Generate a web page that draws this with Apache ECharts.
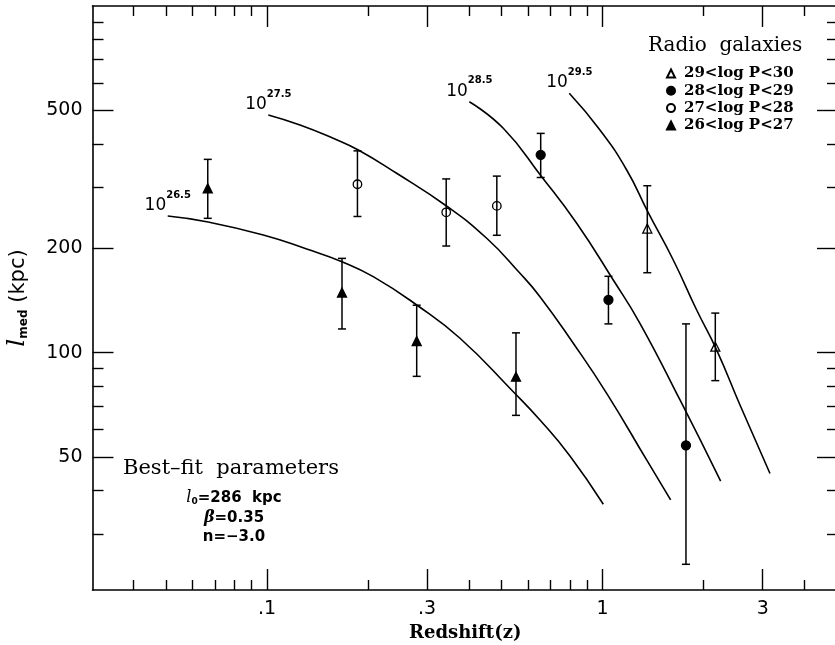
<!DOCTYPE html>
<html>
<head>
<meta charset="utf-8">
<script src="https://cdn.jsdelivr.net/npm/echarts/dist/echarts.min.js"></script>
<style>
  html, body { margin: 0; padding: 0; background: #fff; }
  #chart { width: 835px; height: 645px; }
</style>
</head>
<body>
<div id="chart"></div>
<script>
// measured points: [z, l_med, lower, upper]  (kpc)
const grp29 = [[1.359, 228, 170, 303], [2.167, 104, 83, 130]]
const grp28 = [[0.654, 372, 320, 429], [1.041, 142, 121, 166], [1.772, 54, 24.5, 121]]
const grp27 = [[0.186, 306, 247, 382], [0.342, 254, 203, 317], [0.484, 265, 218, 323]]
const grp26 = [[0.0666, 298, 244, 361], [0.1673, 149, 117, 187], [0.2793, 108, 85.4, 137], [0.552, 85.2, 65.9, 114]]

// model curves: [z, l_med]
const curve265 = [[0.0506, 247.9], [0.0661, 238.6], [0.0975, 218.5], [0.1313, 199], [0.1673, 182.9], [0.2073, 165.6],
  [0.2793, 137.2], [0.3759, 110], [0.5418, 77.1], [0.6507, 63.9], [0.7994, 50.3], [1.005, 36.5]]
const curve275 = [[0.1009, 484.8], [0.1254, 453.6], [0.1575, 415.3], [0.1871, 384.2], [0.2434, 329.1], [0.3426, 264.8],
  [0.4515, 213.7], [0.5674, 169.4], [0.6507, 145], [0.8178, 106.4], [1.0285, 76.3], [1.353, 49], [1.595, 37.6]]
const curve285 = [[0.4008, 529.4], [0.5059, 443.7], [0.6583, 321.7], [0.8372, 236.1], [1.076, 162], [1.292, 121.5],
  [1.701, 73], [2.248, 42.6]]
const curve295 = [[0.7957, 560], [0.982, 438.7], [1.18, 336.4], [1.363, 255], [1.624, 185], [1.907, 132.7],
  [2.188, 101.7], [2.567, 70.6], [3.154, 44.8]]
const curveNames = ['26.5', '27.5', '28.5', '29.5']

// ticks
const xMajorTicks = [0.1, 0.3, 1, 3]
const xTickLabels = ['.1', '.3', '1', '3']
const xMinorTicks = [0.04, 0.05, 0.06, 0.07, 0.08, 0.09, 0.2, 0.4, 0.5, 0.6, 0.7, 0.8, 0.9, 2, 4]
const yMajorTicks = [50, 100, 200, 500]
const yTickLabels = ['50', '100', '200', '500']
const yMinorTicks = [30, 40, 60, 70, 80, 90, 300, 400, 600, 700, 800, 900]

const groupNames = ['29<log P<30', '28<log P<29', '27<log P<28', '26<log P<27']

const lg = Math.log10
const X_MIN = -1.52, X_MAX = 0.7015
const Y_MIN = 1.315, Y_MAX = 3
const black = '#000'

function pickLabel(v, ticks, labels) {
  const i = ticks.findIndex(t => Math.abs(lg(t) - v) < 1e-6)
  return i >= 0 ? labels[i] : ''
}

function makeAxis(dim, position, ticks, len, showLine, labels) {
  const ax = {
    type: 'value',
    position: position,
    min: dim === 'x' ? X_MIN : Y_MIN,
    max: dim === 'x' ? X_MAX : Y_MAX,
    splitLine: { show: false },
    axisLine: { show: showLine, onZero: false, lineStyle: { color: black, width: 1.6 } },
    axisTick: {
      show: true,
      inside: true,
      length: len,
      customValues: ticks.map(t => lg(t)),
      lineStyle: { color: black, width: 1.4 },
    },
    axisLabel: { show: false },
  }
  if (labels) {
    ax.axisLabel = {
      show: true,
      customValues: ticks.map(t => lg(t)),
      color: black,
      fontFamily: 'DejaVu Sans',
      fontSize: 19,
      margin: 10,
      formatter: (v) => pickLabel(v, ticks, labels),
    }
  }
  return ax
}

const xAxes = [
  makeAxis('x', 'bottom', xMajorTicks, 21, true, xTickLabels),
  makeAxis('x', 'bottom', xMinorTicks, 10, false),
  makeAxis('x', 'top', xMajorTicks, 21, true),
  makeAxis('x', 'top', xMinorTicks, 10, false),
]
xAxes[0].name = 'Redshift(z)'
xAxes[0].nameLocation = 'middle'
xAxes[0].nameGap = 30
xAxes[0].nameTextStyle = { color: black, fontFamily: 'DejaVu Serif', fontWeight: 'bold', fontSize: 18 }

const yAxes = [
  makeAxis('y', 'left', yMajorTicks, 21, true, yTickLabels),
  makeAxis('y', 'left', yMinorTicks, 11, false),
  makeAxis('y', 'right', yMajorTicks, 21, true),
  makeAxis('y', 'right', yMinorTicks, 11, false),
]
yAxes[0].name = '{l|l}{s|med}{k| (kpc)}'
yAxes[0].nameLocation = 'middle'
yAxes[0].nameGap = 63
yAxes[0].nameTextStyle = {
  color: black,
  fontFamily: 'DejaVu Sans',
  fontSize: 21,
  rich: {
    l: { fontFamily: 'DejaVu Serif', fontStyle: 'italic', fontSize: 25, color: black, verticalAlign: 'bottom', lineHeight: 28 },
    s: { fontFamily: 'DejaVu Sans', fontWeight: 'bold', fontSize: 12, color: black, verticalAlign: 'bottom', lineHeight: 22 },
    k: { fontFamily: 'DejaVu Sans', fontSize: 21, color: black, verticalAlign: 'bottom', lineHeight: 28 },
  },
}

function toLog(arr) {
  return arr.map(p => [lg(p[0]), lg(p[1])])
}

function curveSeries(pts, tag) {
  const data = toLog(pts).map((p, i) => {
    if (i !== 0) return p
    return {
      value: p,
      label: {
        show: true,
        position: 'top',
        distance: 2,
        formatter: '{b|10}{s|' + tag + '}',
        rich: {
          b: { fontFamily: 'DejaVu Sans', fontSize: 17, color: black, verticalAlign: 'bottom', lineHeight: 24 },
          s: { fontFamily: 'DejaVu Sans', fontWeight: 'bold', fontSize: 10, color: black, verticalAlign: 'top', lineHeight: 24 },
        },
      },
    }
  })
  return {
    type: 'line',
    data: data,
    smooth: 0.5,
    showSymbol: true,
    symbol: 'circle',
    symbolSize: 0,
    lineStyle: { color: black, width: 1.6 },
    itemStyle: { color: black },
    label: { show: false },
    silent: true,
    z: 2,
  }
}

const groups = [grp29, grp28, grp27, grp26]
const symbols = [
  { symbol: 'triangle', size: 9, fill: 'rgba(0,0,0,0)' },
  { symbol: 'circle', size: 9, fill: black },
  { symbol: 'circle', size: 8.5, fill: 'rgba(0,0,0,0)' },
  { symbol: 'triangle', size: 9, fill: black },
]

const errData = []
groups.forEach(g => g.forEach(p => errData.push([lg(p[0]), lg(p[2]), lg(p[3])])))

const series = []
series.push(curveSeries(curve265, curveNames[0]))
series.push(curveSeries(curve275, curveNames[1]))
series.push(curveSeries(curve285, curveNames[2]))
series.push(curveSeries(curve295, curveNames[3]))
series.push({
  type: 'custom',
  data: errData,
  encode: { x: 0, y: [1, 2] },
  z: 3,
  silent: true,
  renderItem: (params, api) => {
    const x = api.value(0)
    const lo = api.coord([x, api.value(1)])
    const hi = api.coord([x, api.value(2)])
    const cap = 4
    const st = { stroke: black, lineWidth: 1.5 }
    return {
      type: 'group',
      children: [
        { type: 'line', shape: { x1: lo[0], y1: lo[1], x2: hi[0], y2: hi[1] }, style: st },
        { type: 'line', shape: { x1: lo[0] - cap, y1: lo[1], x2: lo[0] + cap, y2: lo[1] }, style: st },
        { type: 'line', shape: { x1: hi[0] - cap, y1: hi[1], x2: hi[0] + cap, y2: hi[1] }, style: st },
      ],
    }
  },
})
groups.forEach((g, i) => {
  series.push({
    name: groupNames[i],
    type: 'scatter',
    data: toLog(g),
    symbol: symbols[i].symbol,
    symbolSize: symbols[i].size,
    itemStyle: { color: symbols[i].fill, borderColor: black, borderWidth: 1.3, opacity: 1 },
    z: 4,
  })
})

const chart = echarts.init(document.getElementById('chart'), null, { renderer: 'canvas' })
chart.setOption({
  animation: false,
  backgroundColor: '#fff',
  grid: { left: 92.5, right: -3, top: 6, bottom: 55, containLabel: false, outerBoundsMode: 'none' },
  xAxis: xAxes,
  yAxis: yAxes,
  legend: {
    data: groupNames,
    orient: 'vertical',
    left: 666,
    top: 66,
    padding: 0,
    itemWidth: 8,
    itemHeight: 8,
    itemGap: 2.3,
    selectedMode: false,
    textStyle: { color: black, fontFamily: 'DejaVu Serif', fontWeight: 'bold', fontSize: 15, lineHeight: 12, padding: [0, 0, 0, 4] },
  },
  graphic: [
    {
      type: 'text', x: 648, y: 46,
      style: { text: 'Radio  galaxies', fill: black, font: '20px "DejaVu Serif"', verticalAlign: 'middle' },
    },
    {
      type: 'text', x: 123, y: 469,
      style: { text: 'Best\u2013fit  parameters', fill: black, font: '21px "DejaVu Serif"', verticalAlign: 'middle' },
    },
    {
      type: 'text', x: 234, y: 496,
      style: {
        text: '{l|l}{o|0}{t|=286  kpc}',
        align: 'center', verticalAlign: 'middle',
        rich: {
          l: { fontFamily: 'DejaVu Serif', fontStyle: 'italic', fontSize: 16, fill: black, verticalAlign: 'bottom', lineHeight: 20 },
          o: { fontFamily: 'DejaVu Sans', fontWeight: 'bold', fontSize: 9, fill: black, verticalAlign: 'bottom', lineHeight: 16 },
          t: { fontFamily: 'DejaVu Sans', fontWeight: 'bold', fontSize: 15, fill: black, verticalAlign: 'bottom', lineHeight: 19 },
        },
      },
    },
    {
      type: 'text', x: 234, y: 516,
      style: {
        text: '{g|\u03b2}{t|=0.35}',
        align: 'center', verticalAlign: 'middle',
        rich: {
          g: { fontFamily: 'DejaVu Serif', fontStyle: 'italic', fontWeight: 'bold', fontSize: 16, fill: black, verticalAlign: 'bottom', lineHeight: 20 },
          t: { fontFamily: 'DejaVu Sans', fontWeight: 'bold', fontSize: 15, fill: black, verticalAlign: 'bottom', lineHeight: 19 },
        },
      },
    },
    {
      type: 'text', x: 234, y: 537,
      style: { text: 'n=\u22123.0', fill: black, font: 'bold 15px "DejaVu Sans"', align: 'center', verticalAlign: 'middle' },
    },
  ],
  series: series,
})
</script>
</body>
</html>
